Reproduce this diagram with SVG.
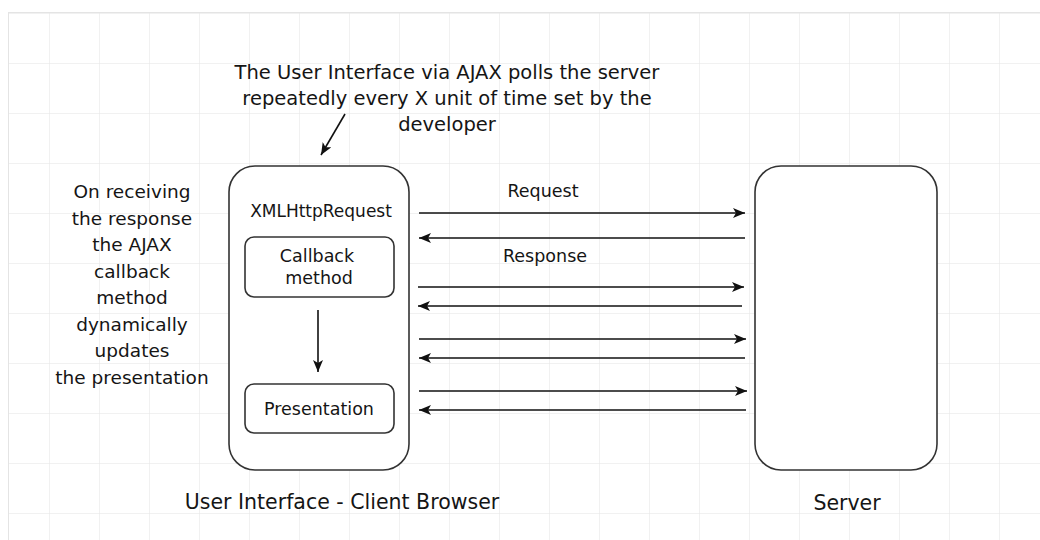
<svg xmlns="http://www.w3.org/2000/svg" width="1040" height="540" viewBox="0 0 1040 540">
<defs>
<pattern id="grid" x="-1" y="13" width="50" height="50" patternUnits="userSpaceOnUse">
<path d="M50,0 L0,0 L0,50" fill="none" stroke="#e4e4e4" stroke-width="1"/>
</pattern>
<marker id="ah" markerUnits="userSpaceOnUse" markerWidth="14" markerHeight="12" refX="12" refY="5" orient="auto">
<path d="M0,0 L12,5 L0,10 L3,5 z" fill="#111"/>
</marker>
</defs>
<style>
text{font-family:"DejaVu Sans","Liberation Sans",sans-serif;fill:#151515;text-anchor:middle}
.box{fill:#fff;stroke:#333;stroke-width:1.6}
.ln{stroke:#111;stroke-width:1.6;fill:none}
</style>
<rect width="1040" height="540" fill="#fff"/>
<rect x="8" y="12" width="1032" height="528" fill="url(#grid)"/>
<line x1="8" y1="12.5" x2="1040" y2="12.5" stroke="#e4e4e4"/>
<line x1="8.5" y1="12" x2="8.5" y2="540" stroke="#e4e4e4"/>

<g id="note-top">
<text font-size="19.5"><tspan x="447" y="79">The User Interface via AJAX polls the server</tspan><tspan x="447" y="105">repeatedly every X unit of time set by the</tspan><tspan x="447" y="131">developer</tspan></text>
</g>
<g id="note-left">
<text font-size="18.5"><tspan x="132" y="198">On receiving</tspan><tspan x="132" y="224.5">the response</tspan><tspan x="132" y="251">the AJAX</tspan><tspan x="132" y="277.5">callback</tspan><tspan x="132" y="304">method</tspan><tspan x="132" y="330.5">dynamically</tspan><tspan x="132" y="357">updates</tspan><tspan x="132" y="383.5">the presentation</tspan></text>
</g>
<g id="client">
<rect class="box" x="229" y="166" width="180" height="304" rx="26"/>
<text x="321" y="217" font-size="17">XMLHttpRequest</text>
<text x="342" y="509" font-size="20.5">User Interface - Client Browser</text>
</g>
<g id="callback">
<rect class="box" x="245" y="237" width="149" height="60" rx="9"/>
<text font-size="17.5"><tspan x="317" y="262">Callback</tspan><tspan x="319" y="284">method</tspan></text>
</g>
<g id="presentation">
<rect class="box" x="245" y="384" width="149" height="49" rx="9"/>
<text x="319" y="415" font-size="17.5">Presentation</text>
</g>
<g id="server">
<rect class="box" x="755" y="166" width="182" height="304" rx="26"/>
<text x="847" y="510" font-size="20.5">Server</text>
</g>
<g id="connectors">
<line class="ln" x1="345" y1="114" x2="321" y2="155" marker-end="url(#ah)"/>
<line class="ln" x1="318" y1="310" x2="318" y2="372" marker-end="url(#ah)"/>
<line class="ln" x1="419" y1="213" x2="745" y2="213" marker-end="url(#ah)"/>
<line class="ln" x1="745" y1="238" x2="419" y2="238" marker-end="url(#ah)"/>
<line class="ln" x1="418" y1="287" x2="744" y2="287" marker-end="url(#ah)"/>
<line class="ln" x1="742" y1="306" x2="418" y2="306" marker-end="url(#ah)"/>
<line class="ln" x1="419" y1="339" x2="746" y2="339" marker-end="url(#ah)"/>
<line class="ln" x1="745" y1="358" x2="419" y2="358" marker-end="url(#ah)"/>
<line class="ln" x1="419" y1="391" x2="747" y2="391" marker-end="url(#ah)"/>
<line class="ln" x1="746" y1="410" x2="419" y2="410" marker-end="url(#ah)"/>
<text x="543" y="197" font-size="17.5">Request</text>
<text x="545" y="262" font-size="17.5">Response</text>
</g>
</svg>
